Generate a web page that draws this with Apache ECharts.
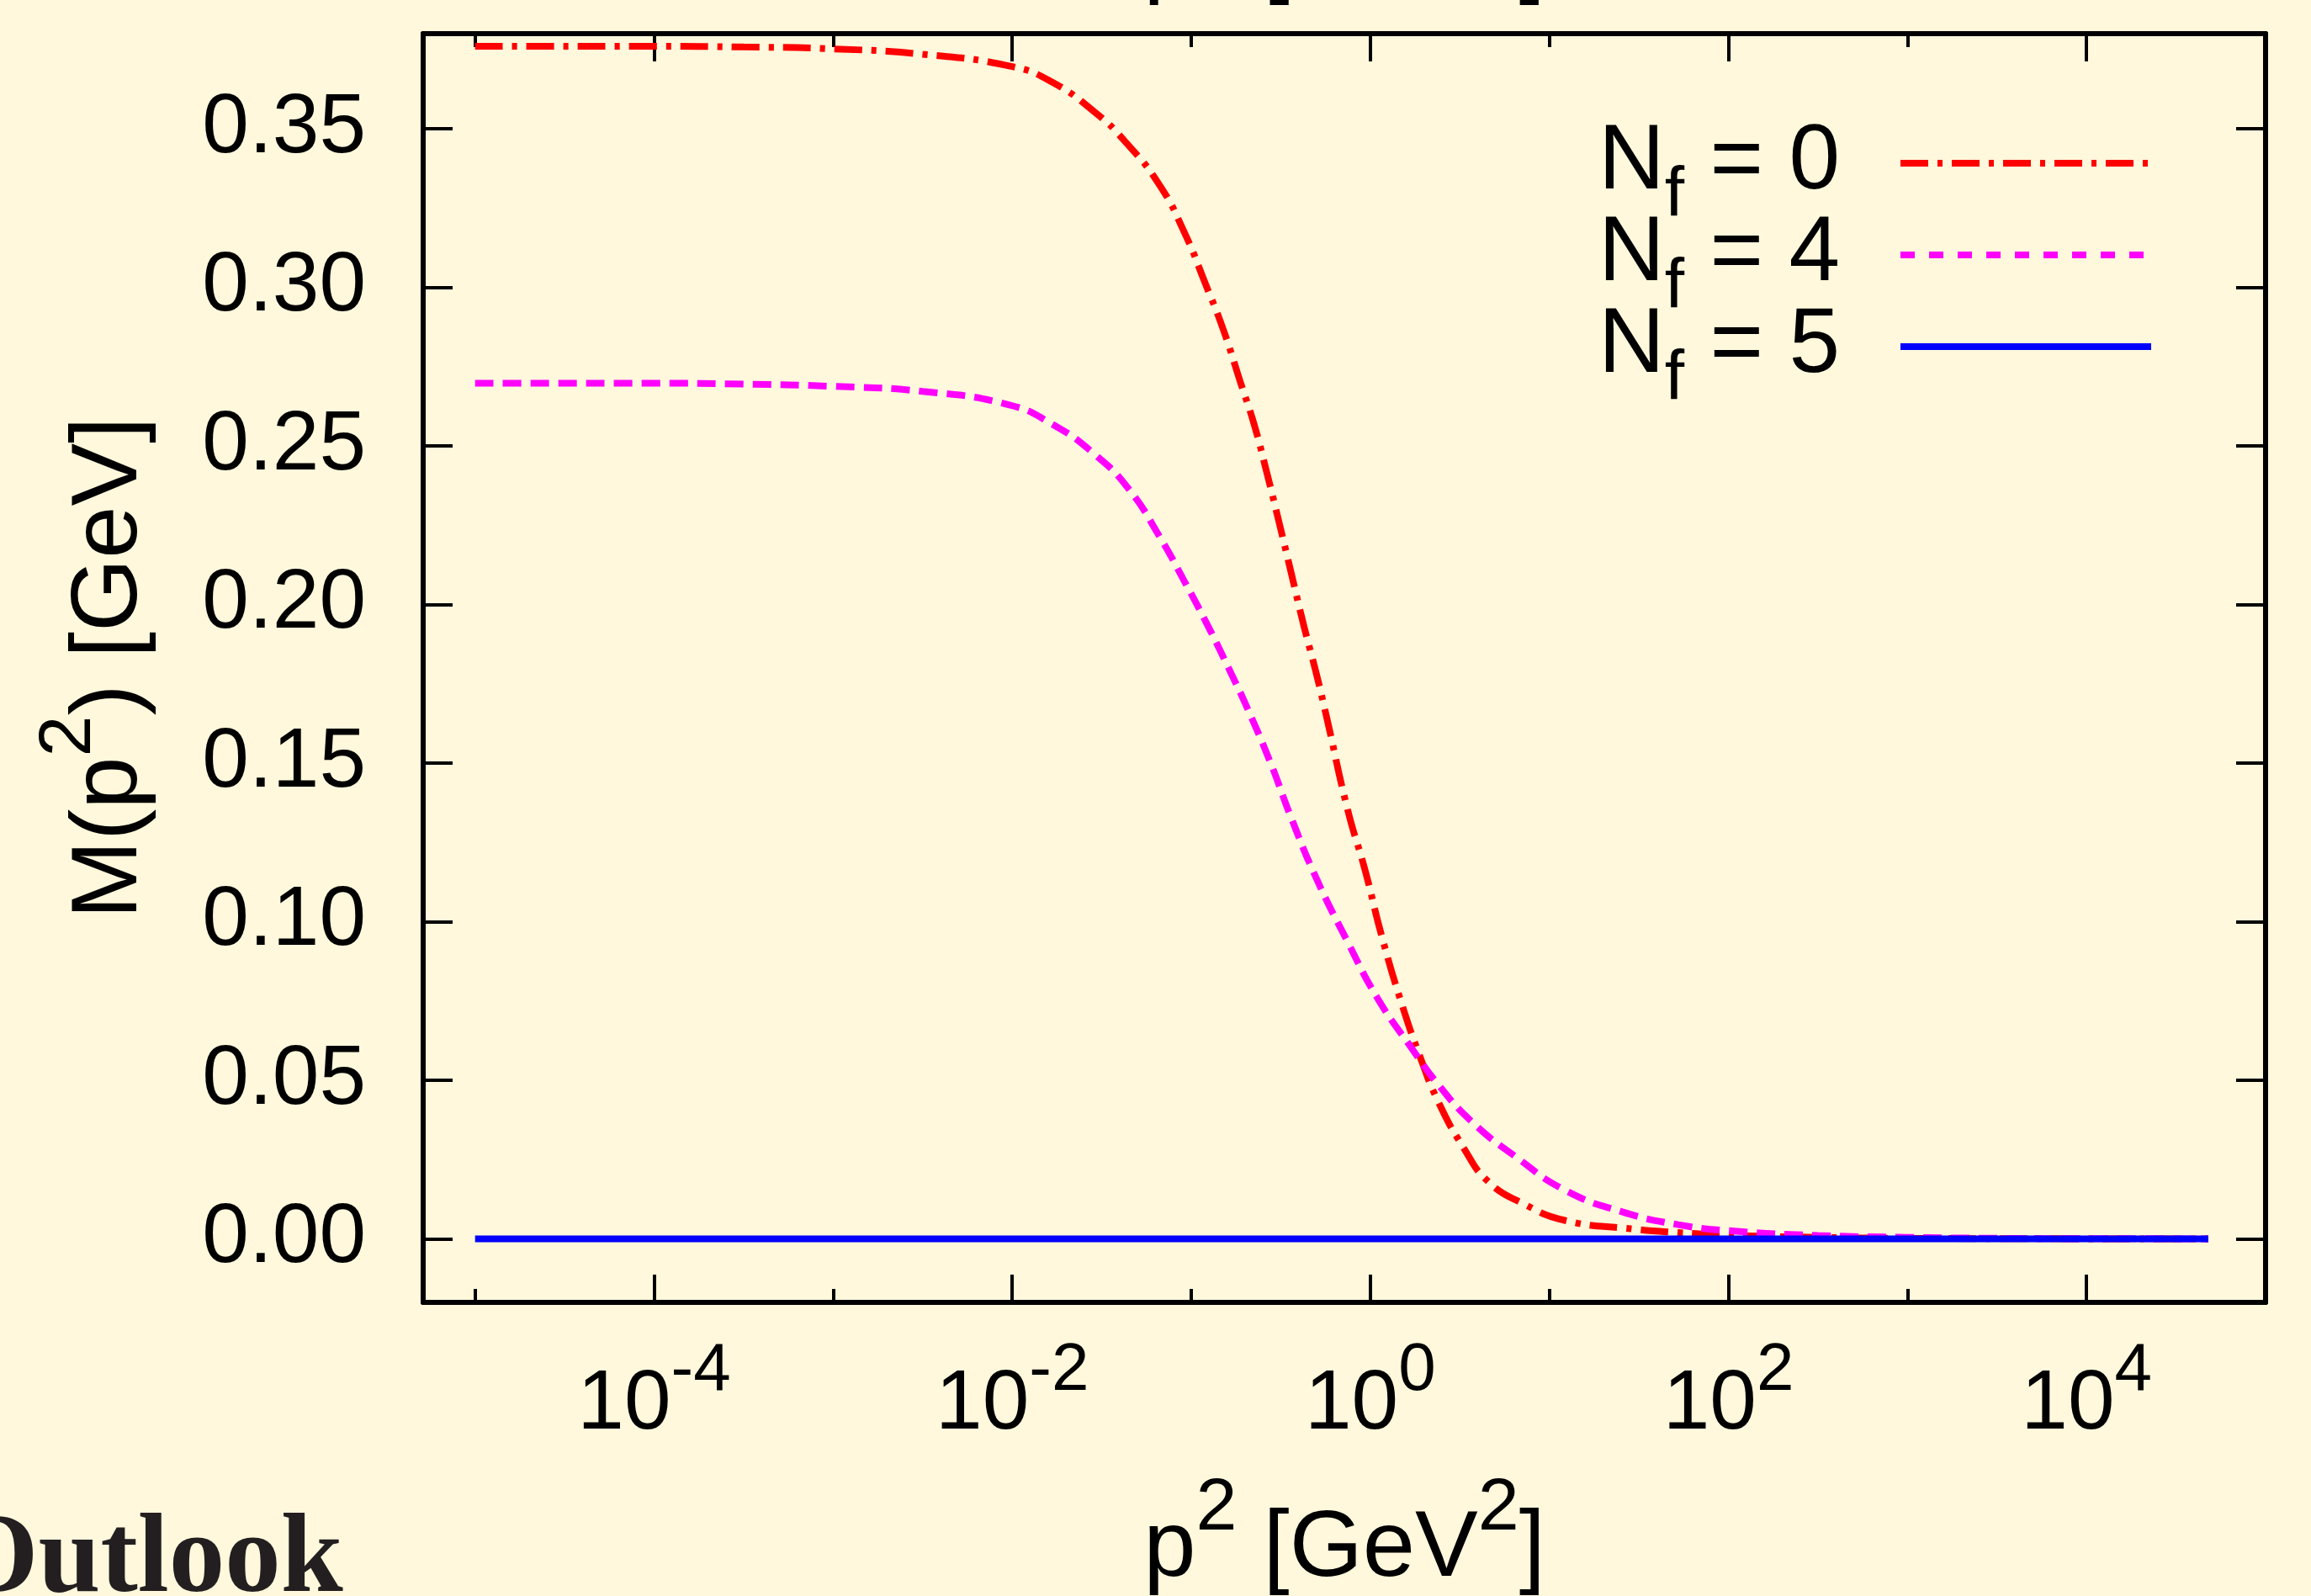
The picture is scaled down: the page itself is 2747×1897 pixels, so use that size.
<!DOCTYPE html>
<html>
<head>
<meta charset="utf-8">
<script src="https://cdn.jsdelivr.net/npm/echarts@6/dist/echarts.min.js"></script>
<style>
  html, body { margin: 0; padding: 0; background: #fff8dc; }
  #main { width: 2747px; height: 1897px; }
</style>
</head>
<body>
<div id="main"></div>
<script>
// x values are stored as log10(p^2 / GeV^2), y is M(p^2) in GeV
var nf0Exp = [-5, -4, -3.5, -3, -2.5, -2.0, -1.78, -1.54, -1.37, -1.18, -1.04, -0.92, -0.82, -0.725, -0.65, -0.58, -0.51, -0.44, -0.37, -0.305, -0.246, -0.127, -0.03, 0.066, 0.18, 0.28, 0.376, 0.52, 0.66, 0.855, 1.09, 1.455, 1.72, 2, 2.5, 3, 3.5, 4, 4.68]
var nf0Mass = [0.376, 0.376, 0.3758, 0.3752, 0.3735, 0.3696, 0.3648, 0.3553, 0.346, 0.3325, 0.3175, 0.301, 0.2865, 0.270, 0.257, 0.242, 0.226, 0.2095, 0.193, 0.179, 0.165, 0.1354, 0.1164, 0.095, 0.0733, 0.0571, 0.0437, 0.0288, 0.018, 0.0111, 0.0058, 0.0032, 0.002, 0.0012, 0.0005, 0.0002, 0.0001, 0.00005, 0.00002]

var nf4Exp = [-5, -4, -3.5, -3, -2.5, -2.02, -1.78, -1.54, -1.35, -1.18, -1.04, -0.9, -0.775, -0.70, -0.56, -0.44, -0.30, -0.127, 0.04, 0.235, 0.376, 0.57, 0.81, 1.09, 1.41, 1.72, 2.0, 2.5, 3.0, 3.5, 4.0, 4.68]
var nf4Mass = [0.2698, 0.2698, 0.2695, 0.2688, 0.2672, 0.263, 0.257, 0.2474, 0.2365, 0.2217, 0.2075, 0.1925, 0.178, 0.169, 0.1505, 0.1325, 0.1135, 0.0937, 0.0759, 0.0598, 0.0489, 0.0368, 0.026, 0.0153, 0.0085, 0.0045, 0.0026, 0.0011, 0.0005, 0.0002, 0.0001, 0.00005]

var nf5Exp = [-5, -2, 0, 2, 4.68]
var nf5Mass = [0, 0, 0, 0, 0]

var seriesNames = ['Nf = 0', 'Nf = 4', 'Nf = 5']
var legendLabels = ['{n|N}{f|f}{n| = 0}{g|}', '{n|N}{f|f}{n| = 4}{g|}', '{n|N}{f|f}{n| = 5}{g|}']

var xMajorExp = [-4, -2, 0, 2, 4]
var xMinorExp = [-5, -3, -1, 1, 3]
var yTicks = [0, 0.05, 0.10, 0.15, 0.20, 0.25, 0.30, 0.35]

function pairs(xs, ys) {
  return xs.map(function (x, i) { return [x, ys[i]] })
}

var font = '"Liberation Sans", Arial, Helvetica, sans-serif'
var nameRich = {
  t: { fontSize: 112, lineHeight: 112, fontFamily: font, color: '#000', verticalAlign: 'bottom' },
  s: { fontSize: 88, lineHeight: 88, fontFamily: font, color: '#000', padding: [0, 0, 60, 0], verticalAlign: 'bottom' }
}
var p2Name = '{t|p}{s|2}{t| [GeV}{s|2}{t|]}'

function xAxisDef(pos, ticks, tickLen, withLine, withLabel, name) {
  return {
    type: 'value',
    position: pos,
    min: -5.29,
    max: 5,
    splitLine: { show: false },
    axisLine: { show: withLine, onZero: false, lineStyle: { color: '#000', width: 6 } },
    axisTick: { show: true, inside: true, length: tickLen, customValues: ticks, lineStyle: { color: '#000', width: 4 } },
    axisLabel: {
      show: withLabel,
      customValues: xMajorExp,
      margin: 72,
      formatter: function (v) { return '{b|10}{s|' + v + '}' },
      rich: {
        b: { fontSize: 100, lineHeight: 100, fontFamily: font, color: '#000', verticalAlign: 'bottom' },
        s: { fontSize: 80, lineHeight: 80, fontFamily: font, color: '#000', padding: [0, 0, 50, 0], verticalAlign: 'bottom' }
      }
    },
    name: name || '',
    nameLocation: 'middle',
    nameGap: pos === 'bottom' ? 238 : 32,
    nameTextStyle: { rich: nameRich }
  }
}

function yAxisDef(pos, withLabel) {
  return {
    type: 'value',
    position: pos,
    min: -0.02,
    max: 0.38,
    splitLine: { show: false },
    axisLine: { show: true, onZero: false, lineStyle: { color: '#000', width: 6 } },
    axisTick: { show: true, inside: true, length: 35, customValues: yTicks, lineStyle: { color: '#000', width: 4 } },
    axisLabel: {
      show: withLabel,
      customValues: yTicks,
      margin: 68,
      fontSize: 100,
      fontFamily: font,
      color: '#000',
      formatter: function (v) { return v.toFixed(2) }
    },
    name: withLabel ? '{t|M(p}{s|2}{t|) [GeV]}' : '',
    nameLocation: 'middle',
    nameGap: 316,
    nameTextStyle: { rich: nameRich }
  }
}

var chart = echarts.init(document.getElementById('main'))
chart.setOption({
  backgroundColor: '#fff8dc',
  animation: false,
  grid: { left: 503, right: 54, top: 40, bottom: 349, containLabel: false, outerBoundsMode: 'none' },
  legend: {
    orient: 'vertical',
    right: 186,
    top: 139,
    padding: 0,
    align: 'right',
    itemWidth: 298,
    itemHeight: 8,
    itemGap: -28,
    itemStyle: { opacity: 0 },
    data: [
      { name: seriesNames[0], lineStyle: { type: [33, 11, 6, 11], width: 8 } },
      { name: seriesNames[1], lineStyle: { type: [17, 17], width: 8 } },
      { name: seriesNames[2], lineStyle: { type: 'solid', width: 8 } }
    ],
    formatter: function (name) { return legendLabels[seriesNames.indexOf(name)] },
    textStyle: {
      rich: {
        n: { fontSize: 109, lineHeight: 110, fontFamily: font, color: '#000', verticalAlign: 'top' },
        f: { fontSize: 84, lineHeight: 84, fontFamily: font, color: '#000', padding: [53, 0, 0, 0], verticalAlign: 'top' },
        g: { width: 67 }
      }
    }
  },
  xAxis: [
    xAxisDef('bottom', xMajorExp, 33, true, true, p2Name),
    xAxisDef('bottom', xMinorExp, 16, false, false),
    xAxisDef('top', xMajorExp, 33, true, false, p2Name),
    xAxisDef('top', xMinorExp, 16, false, false)
  ],
  yAxis: [yAxisDef('left', true), yAxisDef('right', false)],
  graphic: [{
    type: 'text',
    left: -58,
    top: 1790,
    style: { text: 'Outlook', font: 'bold 133px "Liberation Serif", "Times New Roman", serif', fill: '#231f20' }
  }],
  series: [
    {
      name: seriesNames[0], type: 'line', data: pairs(nf0Exp, nf0Mass),
      showSymbol: false, symbol: 'none', smooth: 0.5,
      lineStyle: { color: '#ff0000', width: 8, type: [33, 11, 6, 11] },
      itemStyle: { color: '#ff0000' }
    },
    {
      name: seriesNames[1], type: 'line', data: pairs(nf4Exp, nf4Mass),
      showSymbol: false, symbol: 'none', smooth: 0.5,
      lineStyle: { color: '#ff00ff', width: 8, type: [22, 11] },
      itemStyle: { color: '#ff00ff' }
    },
    {
      name: seriesNames[2], type: 'line', data: pairs(nf5Exp, nf5Mass),
      showSymbol: false, symbol: 'none',
      lineStyle: { color: '#0000ff', width: 8, type: 'solid' },
      itemStyle: { color: '#0000ff' }
    }
  ]
})
</script>
</body>
</html>
